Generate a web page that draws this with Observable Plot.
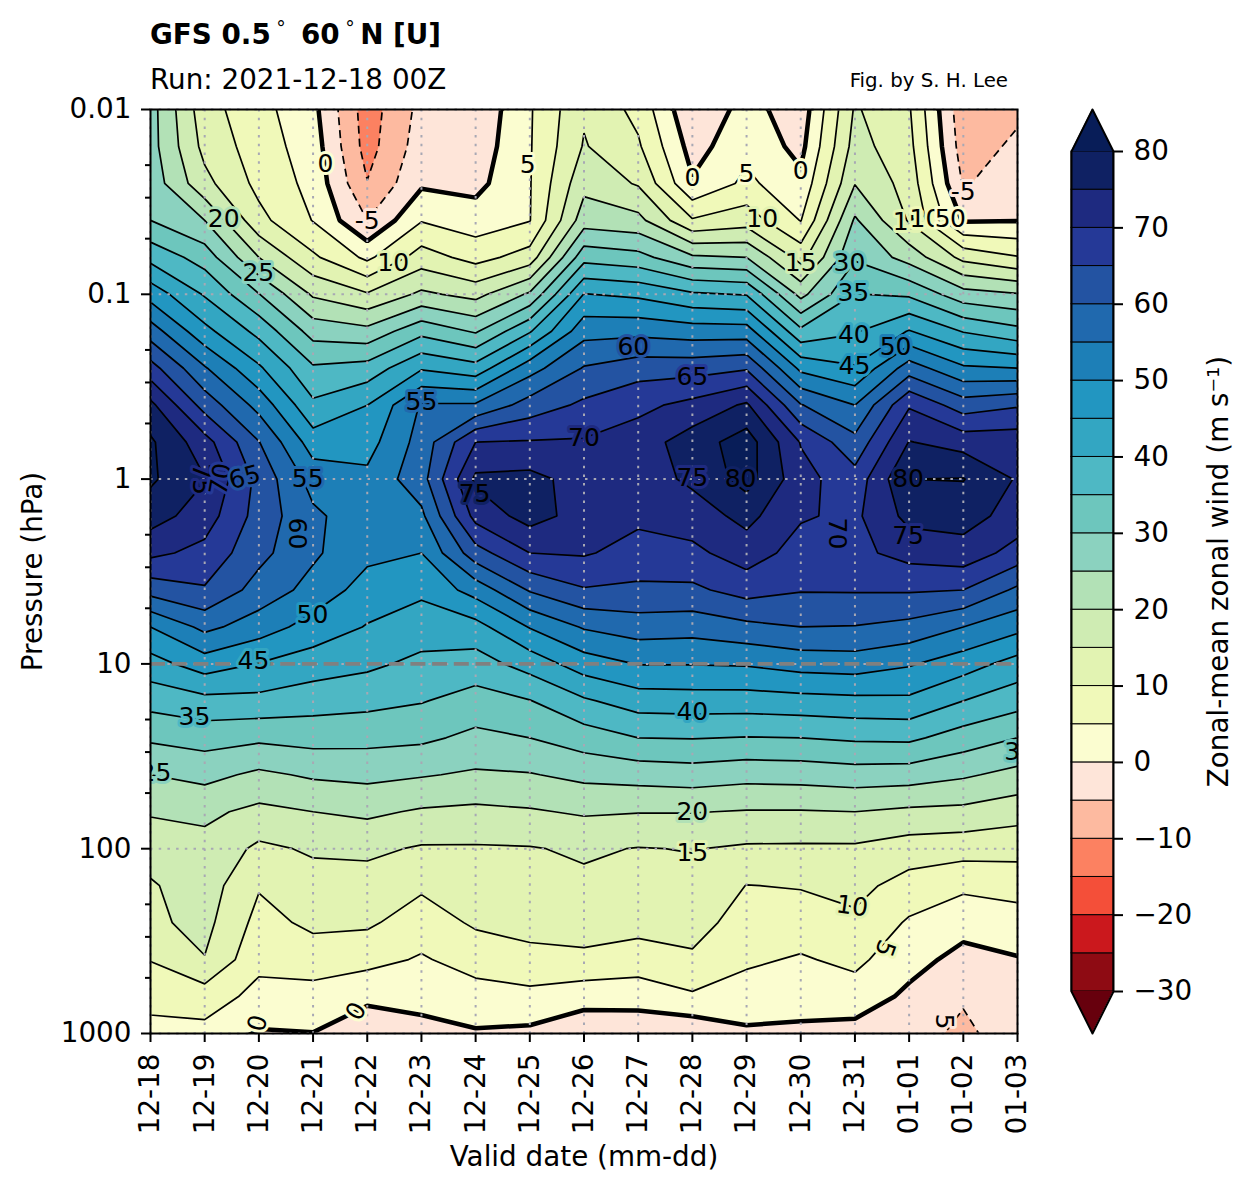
<!DOCTYPE html>
<html>
<head>
<meta charset="utf-8">
<script src="https://cdn.jsdelivr.net/npm/d3@7"></script>
<script src="https://cdn.jsdelivr.net/npm/@observablehq/plot@0.6"></script>
<style>
html,body{margin:0;padding:0;background:#fff;}
#page{position:relative;width:1255px;height:1192px;overflow:hidden;font-family:"DejaVu Sans",sans-serif;color:#000;}
#page svg{position:absolute;top:0;}
.t{position:absolute;white-space:nowrap;line-height:1;}
.deg{font-weight:normal;font-size:19px;position:relative;top:-9px;margin:0 5.5px;}
</style>
</head>
<body>
<div id="page">
  <div class="t" style="left:150px;top:21px;font-size:27.8px;font-weight:bold;">GFS 0.5<span class="deg">°</span> 60<span class="deg">°</span>N [U]</div>
  <div class="t" style="left:150px;top:66px;font-size:27.8px;">Run: 2021-12-18 00Z</div>
  <div class="t" style="right:247px;top:71px;font-size:19.8px;">Fig. by S. H. Lee</div>
</div>
<script>
const dates = ["12-18","12-19","12-20","12-21","12-22","12-23","12-24","12-25","12-26","12-27","12-28","12-29","12-30","12-31","01-01","01-02","01-03"];
// pressure rows, evenly spaced in log p, top to bottom
const pressureRows = [0.01,0.0158,0.0251,0.0398,0.0631,0.1,0.158,0.251,0.398,0.631,1,1.58,2.51,3.98,6.31,10,15.8,25.1,39.8,63.1,100,158,251,398,631,1000];
// zonal-mean zonal wind (m/s), one array per valid date
const u1218 = [27,27,28,30,38.5,48,57.5,67,76.3,80.8,80.8,77.2,71.2,62,50,43,36.8,30.8,25,20.5,17,14.5,14,10.2,6.5,3.5];
const u1219 = [12,13.5,16.5,25,32.8,39.5,46.5,55.5,63,72,75.2,72.5,68.5,64.5,56.3,47.5,38.5,32,26.5,21,18.5,17.5,16.5,14.8,7.5,3.5];
const u1220 = [6.7,7.5,8.6,11.5,20,30.2,38.5,45.8,53.3,60.2,63.5,63,61.5,58,52.5,44.8,38.6,31,24,18.8,14,10.4,8.4,6.3,3.5,-0.5];
const u1221 = [1.4,2.5,3.5,4.8,10.9,19.3,28,35.7,41,47.5,53,56,55.8,53.3,48,42.5,37.2,31.8,25.7,20,15.6,13.2,11,7.6,3,-0.1];
const u1222 = [-12.5,-12,-9.8,-5,3.9,15.5,26.5,37,45,48,51.2,52,51.3,47.8,44.7,41,36.5,31.5,26.3,21,16,13,10.8,6.6,1,-3];
const u1223 = [-3.5,-2.5,-0.8,4.7,12.3,21,33.5,44.5,55.5,57,58,53.9,50,46,42.4,38.8,35.3,31,25.4,19.4,14.5,10.8,7.5,4.5,1.5,-1.5];
const u1224 = [-4,-3,-1.5,2.4,8.2,18.4,29.4,42,55.7,70,76,71.7,62.9,52,43.2,37.8,33,28.8,24.3,18.9,14.5,12.6,10.7,7,3,-0.5];
const u1225 = [4.5,4.6,4.7,4.8,12.2,25.8,39.5,53,62.2,70.4,76.5,77,70,60.5,50.3,42,34.8,30,24.7,19.5,14.7,13.1,11.4,8.8,3.5,-1];
const u1226 = [14.3,15.4,18.5,22.7,33.2,45.2,53.2,60.4,66,70.5,73,73,70.5,64.6,55.5,47.5,39.3,32.5,26.3,20.6,15.7,14,12.1,9,2,-3.5];
const u1227 = [8.5,10.7,14.5,21.5,31.7,44,53.5,62.9,68.7,72.5,72.5,71,68.2,64,57.5,50.2,42.4,35,27,20.2,14.8,13.3,11.7,7.7,2,-3.3];
const u1228 = [-4.5,-2,0.5,10.5,25.8,40.8,52.5,63,71.5,77.5,76,72.5,68.8,64,57,50.2,42.7,35.2,27.6,20.2,15.2,13.5,11.7,9.3,4.3,-3.8];
const u1229 = [2,3.5,6.2,12.7,25,39.7,52.3,64.5,75.8,82.5,82,76.5,72.5,67,58.7,50.5,42.7,34.8,26.7,19.7,14.3,9.9,8.1,5.8,2.8,-0.8];
const u1230 = [-3,-1.5,1.2,4.8,13.2,23.5,36.2,48.8,60.3,69.7,71.8,70.5,68,65.3,60,52,43.2,35,27,19.7,14.2,10.3,7.6,4.5,2,-1];
const u1231 = [15.6,17,19.8,25.7,29.4,35.2,39.5,45.5,55,61.5,67,69,68.7,65.4,59.8,52.5,43.7,35.8,27.7,20,14.2,11.5,9,6.2,2.7,-1.8];
const u0101 = [10.5,11.5,13,14.5,23,34.2,45.3,57.5,69.5,75.2,80,76.5,71.8,65.5,58.5,50.5,44,36,27.4,19,12.6,8,4.4,1.7,-1,-3.5];
const u0102 = [-8.5,-7.5,-5.5,-0.5,13.5,27,39.7,50.8,62.5,73,80.2,77,73,65,55,47.3,40,32.7,25.7,18.7,12,6,1.7,-1.5,-4.6,-5.8];
const u0103 = [-6,-4,-2.2,-0.2,10.3,25.4,36.5,50,64.5,73,74.5,73,68,59,51.5,43,37,30,23.5,17,11.7,6.9,2.8,-0.3,-1.8,-3];

const uColumns = [u1218,u1219,u1220,u1221,u1222,u1223,u1224,u1225,u1226,u1227,u1228,u1229,u1230,u1231,u0101,u0102,u0103];

const levels = d3.range(-30, 85, 5);
const bandColors = ["#67000d","#8e0b13","#cb181d","#f44f39","#fc8161","#fdbaa0","#fee5d9","#fbfdd0","#f0f9b9","#e2f3b2","#cfecb3","#b2e1b6","#8bd2bf","#6dc6bd","#4eb8c4","#33a6c2","#2296c1","#1d7fb7","#2069ae","#2353a2","#253997","#1e2a80","#0f2163","#081d58"];

// inline contour labels: day index, pressure, text, rotation, band under the text
const labelDay = [3.23,4,4.48,1.35,1.99,6.96,10,11,12,11.29,12,12.9,12.97,12.98,12.99,13.75,13.99,14.3,14.62,14.9,15,5,8.91,10,8,5.98,10,10.89,13.98,13.98,12.66,2.7,0.94,1.3,1.74,2.9,2.99,1.9,0.81,0.09,16.05,10,10,10,12.95,13.55,14.65,1.98,3.8];
const labelP = [0.0196,0.04,0.068,0.039,0.077,0.02,0.0236,0.0222,0.0216,0.039,0.068,0.068,0.099,0.167,0.243,0.194,0.0408,0.039,0.039,0.039,0.028,0.385,0.194,0.279,0.596,1.21,0.99,1,1,2.04,1.97,1.97,1,1,0.98,1,5.47,9.7,19.5,39,30,18.1,63,105,205,345,860,880,760];
const labelText = ["0","-5","10","20","25","5","0","5","0","10","15","30","35","40","45","50","15","10","5","0","-5","55","60","65","70","75","75","80","80","75","70","60","75","70","65","55","50","45","35","25","35","40","20","15","10","5","5","0","0"];
const labelRotate = [0,0,0,0,0,0,0,0,0,0,0,0,0,0,0,0,0,0,0,0,0,0,0,0,0,0,0,0,0,0,90,90,90,-80,-15,0,0,0,0,0,0,0,0,0,8,110,90,-75,-60];
const labelBand = [2,-3,12,22,27,2,2,2,2,12,17,32,37,42,47,52,12,7,2,2,-3,57,62,67,72,76,72,76,76,72,67,57,72,67,62,57,47,42,37,27,32,42,22,12,12,7,-3,2,2];

const lg = Math.log10;
const rows = pressureRows.length, cols = dates.length;
const grid = [];
for (let r = 0; r < rows; r++) for (let c = 0; c < cols; c++) grid.push(uColumns[c][r]);
const halfRow = (lg(pressureRows[rows - 1]) - lg(pressureRows[0])) / (rows - 1) / 2;
const gridOpts = {width: cols, height: rows, x1: -0.5, x2: cols - 0.5, y1: lg(pressureRows[0]) - halfRow, y2: lg(pressureRows[rows - 1]) + halfRow, value: Plot.identity, clip: true};

const labels = labelText.map((text, i) => ({day: labelDay[i], p: lg(labelP[i]), text, rotate: labelRotate[i], band: labelBand[i]}));
const majorP = [0.01,0.1,1,10,100,1000];
const minorP = [0.02,0.03,0.05,0.2,0.3,0.5,2,3,5,20,30,50,200,300,500];
const colorScale = {type: "threshold", domain: levels, range: bandColors};
const dotted = {stroke: "#a8a8b4", strokeWidth: 2, strokeDasharray: "2.5 6.2"};
const pressureText = new Map(majorP.map(p => [lg(p), String(p)]));

const main = Plot.plot({
  width: 1255, height: 1192,
  marginLeft: 150, marginRight: 238, marginTop: 109, marginBottom: 159,
  style: {fontFamily: "DejaVu Sans", fontSize: "27.8px", background: "transparent", overflow: "visible"},
  x: {type: "linear", domain: [0, 16], label: null},
  y: {type: "linear", domain: [lg(0.01), lg(1000)], reverse: true, label: null},
  color: colorScale,
  marks: [
    Plot.contour(grid, {...gridOpts, thresholds: levels, fill: "value", stroke: "none"}),
    Plot.contour(grid, {...gridOpts, thresholds: levels.filter(v => v > 0), fill: "none", stroke: "black", strokeWidth: 1.7}),
    Plot.contour(grid, {...gridOpts, thresholds: levels.filter(v => v < 0), fill: "none", stroke: "black", strokeWidth: 1.7, strokeDasharray: "8 5"}),
    Plot.contour(grid, {...gridOpts, thresholds: [0], fill: "none", stroke: "black", strokeWidth: 4.5}),
    Plot.ruleX(d3.range(cols), {...dotted}),
    Plot.ruleY(majorP.map(lg), {...dotted}),
    Plot.ruleY([lg(10)], {stroke: "#808080", strokeWidth: 3.6, strokeDasharray: "15 6.7"}),
    Plot.text(labels, {x: "day", y: "p", text: "text", rotate: "rotate", fontSize: 25, fill: "black", stroke: "band", strokeWidth: 6, paintOrder: "stroke", clip: true}),
    Plot.frame({stroke: "black", strokeWidth: 2}),
    Plot.axisX(d3.range(cols), {anchor: "bottom", tickFormat: i => dates[i], tickRotate: -90, tickSize: 9, tickPadding: 11, strokeWidth: 2, fontSize: 27.8, label: "Valid date (mm-dd)", labelAnchor: "center", labelArrow: "none", labelOffset: 132}),
    Plot.axisY(majorP.map(lg), {anchor: "left", tickFormat: v => pressureText.get(v), tickSize: 9, tickPadding: 10, strokeWidth: 2, fontSize: 27.8, label: "Pressure (hPa)", labelAnchor: "center", labelArrow: "none", labelOffset: 128}),
    Plot.axisY(minorP.map(lg), {anchor: "left", tickFormat: () => "", tickSize: 5, strokeWidth: 2, label: null})
  ]
});
main.style.left = "0px";
document.getElementById("page").appendChild(main);

// colour bar
const bands = levels.slice(0, -1).map(low => ({low, high: low + 5}));
const tipHigh = [{y: 80, a: 0, b: 1}, {y: 85.5, a: 0.5, b: 0.5}];
const tipLow = [{y: -30, a: 0, b: 1}, {y: -35.5, a: 0.5, b: 0.5}];
const bar = Plot.plot({
  width: 195, height: 1192,
  marginLeft: 16, marginRight: 137, marginTop: 109, marginBottom: 159,
  style: {fontFamily: "DejaVu Sans", fontSize: "27.8px", background: "transparent", overflow: "visible"},
  x: {domain: [0, 1], axis: null},
  y: {domain: [-35.5, 85.5], label: null},
  color: colorScale,
  marks: [
    Plot.rect(bands, {x1: () => 0, x2: () => 1, y1: "low", y2: "high", fill: "low", stroke: "black", strokeWidth: 1, inset: 0}),
    Plot.areaX(tipHigh, {x1: "a", x2: "b", y: "y", fill: () => 85}),
    Plot.areaX(tipLow, {x1: "a", x2: "b", y: "y", fill: () => -35}),
    Plot.line([{x:0,y:-30},{x:0.5,y:-35.5},{x:1,y:-30},{x:1,y:80},{x:0.5,y:85.5},{x:0,y:80},{x:0,y:-30}], {x: "x", y: "y", stroke: "black", strokeWidth: 2}),
    Plot.axisY(d3.range(-30, 90, 10), {anchor: "right", tickFormat: v => v < 0 ? "\u2212" + Math.abs(v) : String(v), tickSize: 9, tickPadding: 11, strokeWidth: 2, fontSize: 27.8, label: "Zonal-mean zonal wind (m s\u207b\u00b9)", labelAnchor: "center", labelArrow: "none", labelOffset: 114})
  ]
});
bar.style.left = "1055px";
document.getElementById("page").appendChild(bar);
</script>
</body>
</html>
